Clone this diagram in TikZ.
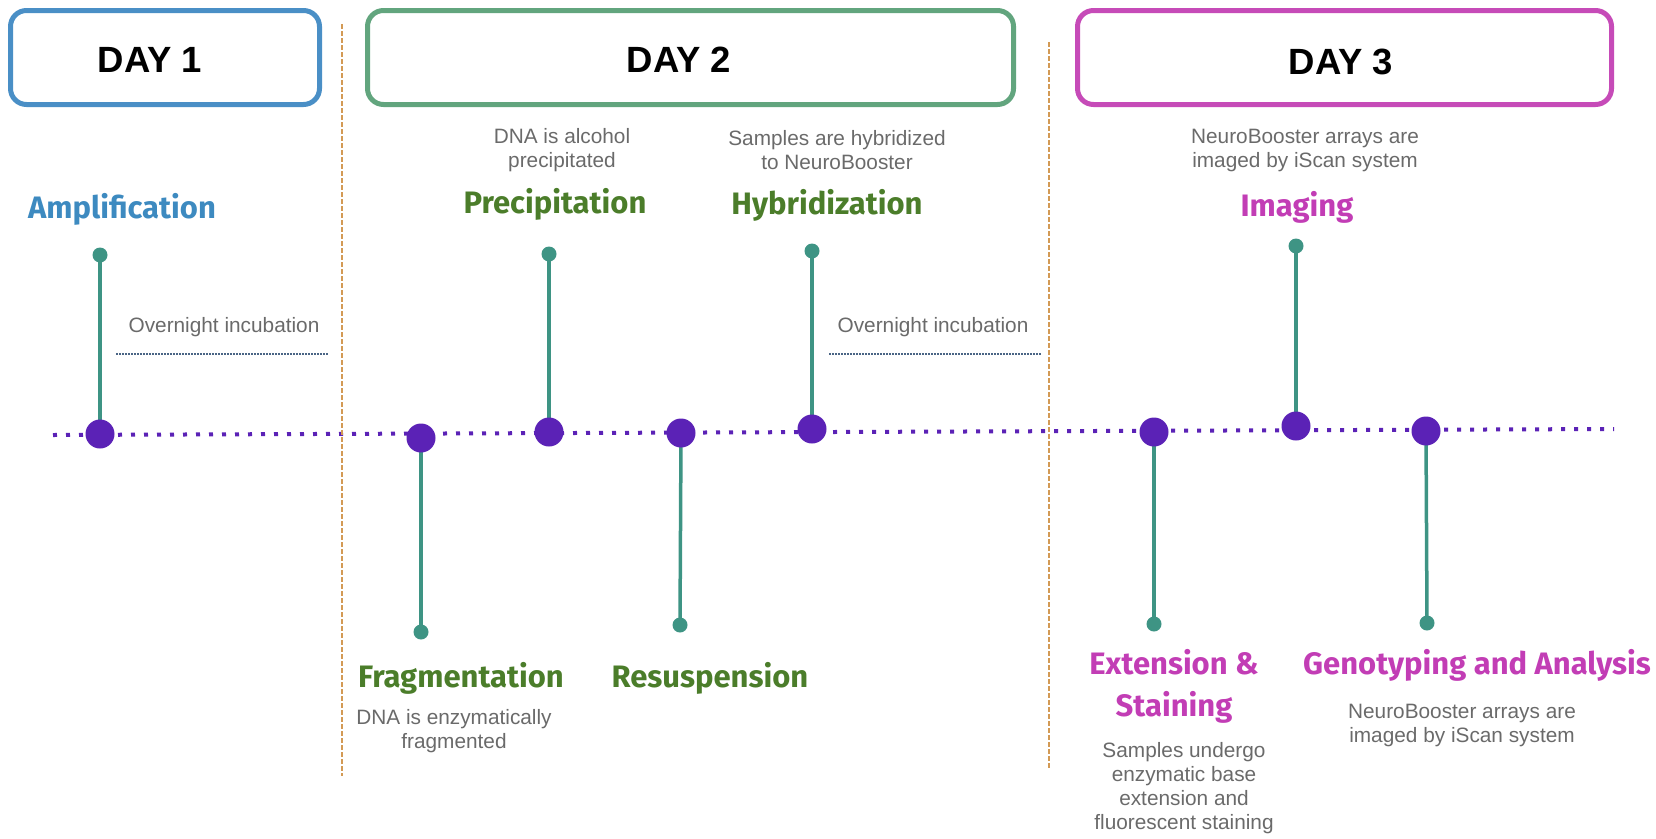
\documentclass[tikz,border=0pt]{standalone}
\usepackage{fontspec}
\setmainfont{Liberation Sans}
\newfontfamily\headfont{Fira Sans}
\usetikzlibrary{backgrounds}
\definecolor{dayblue}{HTML}{4A8FC6}
\definecolor{daygreen}{HTML}{62A57E}
\definecolor{daymag}{HTML}{C64BB8}
\definecolor{tblue}{HTML}{3D8AC0}
\definecolor{tgreen}{HTML}{4B7D2A}
\definecolor{tmag}{HTML}{C23DB5}
\definecolor{dotpurple}{HTML}{5B22B6}
\definecolor{stemteal}{HTML}{3E9484}
\definecolor{sepor}{HTML}{D39A55}
\definecolor{graytxt}{HTML}{6A6A6A}
\definecolor{slate}{HTML}{4A6585}
\begin{document}
\begin{tikzpicture}[x=1pt,y=-1pt,
  daybox/.style={draw=#1, line width=5pt, rounded corners=16pt, inner sep=0pt},
  daytext/.style={font=\fontsize{36.5}{40}\selectfont\bfseries, text=black},
  bigdot/.style={circle, fill=dotpurple, minimum size=29pt, inner sep=0pt},
  smalldot/.style={circle, fill=stemteal, minimum size=15pt, inner sep=0pt},
  stem/.style={draw=stemteal, line width=3.5pt},
  head/.style={font=\headfont\fontsize{31}{42}\selectfont\bfseries, text=#1, align=center, inner sep=0pt},
  desc/.style={font=\fontsize{20.8}{24}\selectfont, text=graytxt, align=center, inner sep=0pt},
  sep/.style={draw=sepor, line width=1.5pt, dash pattern=on 5pt off 2pt},
  overline/.style={draw=slate, line width=1.5pt, dash pattern=on 1.5pt off 1.5pt},
  timeline/.style={draw=dotpurple, line width=4pt, dash pattern=on 4pt off 9pt}
]
\useasboundingbox (0,0) rectangle (1656,838);

% day boxes
\node[daybox=dayblue, minimum width=309pt, minimum height=94pt] (box1) at (165,57.5) {};
\node[daytext] (day1) at (150,60) {DAY 1};
\node[daybox=daygreen, minimum width=646pt, minimum height=94pt] (box2) at (690.5,57.5) {};
\node[daytext] (day2) at (679,60) {DAY 2};
\node[daybox=daymag, minimum width=534pt, minimum height=94pt] (box3) at (1344.5,57.5) {};
\node[daytext] (day3) at (1341,62) {DAY 3};

% separators
\coordinate (sepAtop) at (342,24);
\coordinate (sepAbot) at (342,776);
\coordinate (sepBtop) at (1049,42);
\coordinate (sepBbot) at (1049,769);
\draw[sep] (sepAtop) -- (sepAbot);
\draw[sep] (sepBtop) -- (sepBbot);

% timeline
\coordinate (tlstart) at (53,435);
\coordinate (tlend) at (1614,429);

% purple dots
\node[bigdot] (pA) at (100,434) {};
\node[bigdot] (pF) at (421,438) {};
\node[bigdot] (pP) at (549,432) {};
\node[bigdot] (pR) at (681,433) {};
\node[bigdot] (pH) at (812,429) {};
\node[bigdot] (pE) at (1154,432) {};
\node[bigdot] (pI) at (1296,426) {};
\node[bigdot] (pG) at (1426,431) {};

% stem end dots
\node[smalldot] (sA) at (100,255) {};
\node[smalldot] (sP) at (549,254) {};
\node[smalldot] (sH) at (812,251) {};
\node[smalldot] (sI) at (1296,246) {};
\node[smalldot] (sF) at (421,632) {};
\node[smalldot] (sR) at (680,625) {};
\node[smalldot] (sE) at (1154,624) {};
\node[smalldot] (sG) at (1427,623) {};

\begin{pgfonlayer}{background}
\draw[timeline] (tlstart) -- (tlend);
\foreach \a/\b in {sA/pA,sP/pP,sH/pH,sI/pI,sF/pF,sR/pR,sE/pE,sG/pG}
  \draw[stem] (\a.center) -- (\b.center);
\end{pgfonlayer}

% headings
\node[head=tblue] (hA) at (122,209) {Amplification};
\node[head=tgreen] (hP) at (555,204) {Precipitation};
\node[head=tgreen] (hH) at (827,205) {Hybridization};
\node[head=tmag] (hI) at (1297,207) {Imaging};
\node[head=tgreen] (hF) at (461,678) {Fragmentation};
\node[head=tgreen] (hR) at (710,678) {Resuspension};
\node[head=tmag] (hE) at (1174,686) {Extension \&\\Staining};
\node[head=tmag] (hG) at (1477,665) {Genotyping and Analysis};

% descriptions
\node[desc] (dP) at (562,150) {DNA is alcohol\\precipitated};
\node[desc] (dH) at (837,150) {Samples are hybridized\\to NeuroBooster};
\node[desc] (dI) at (1305,150) {NeuroBooster arrays are\\imaged by iScan system};
\node[desc] (dF) at (454,731) {DNA is enzymatically\\fragmented};
\node[desc] (dE) at (1184,788) {Samples undergo\\enzymatic base\\extension and\\fluorescent staining};
\node[desc] (dG) at (1462,725) {NeuroBooster arrays are\\imaged by iScan system};

% overnight incubation
\node[desc] (o1) at (224,327) {Overnight incubation};
\coordinate (o1a) at (116,354);
\coordinate (o1b) at (329,354);
\draw[overline] (o1a) -- (o1b);
\node[desc] (o2) at (933,327) {Overnight incubation};
\coordinate (o2a) at (829,354);
\coordinate (o2b) at (1042,354);
\draw[overline] (o2a) -- (o2b);
\end{tikzpicture}
\end{document}
